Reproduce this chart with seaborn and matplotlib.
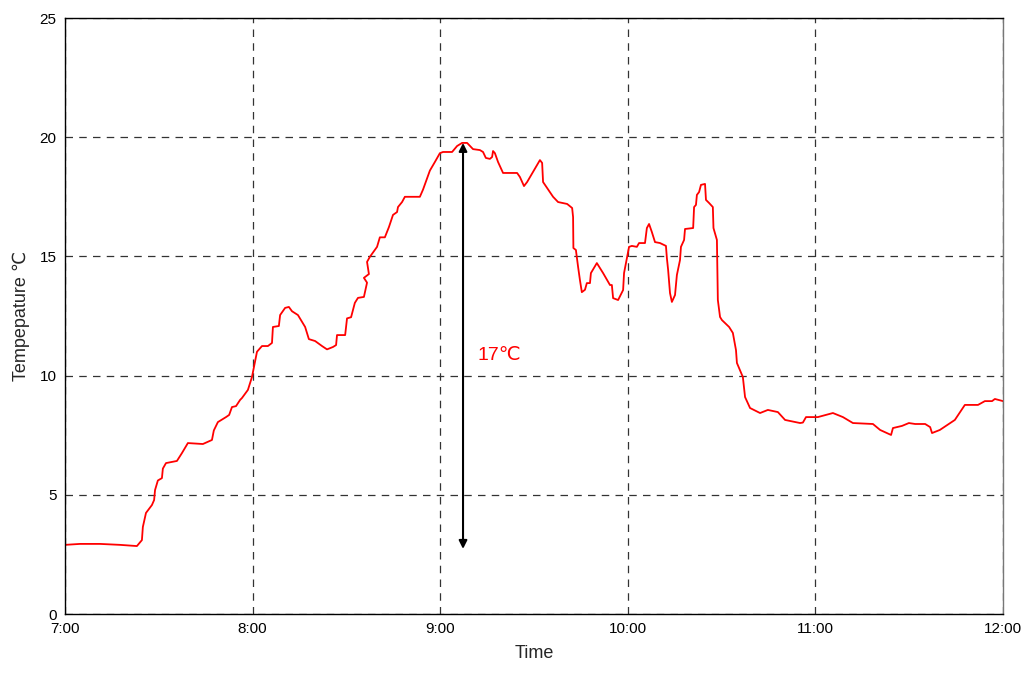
import matplotlib
matplotlib.use("Agg")
import matplotlib.pyplot as plt
import seaborn as sns
import pandas as pd

# Minutes after 7:00 and the recorded temperature (°C)
minutes = [
    0, 4.8, 11.2, 17.6, 23.0, 24.6, 24.9, 25.9, 27.8, 28.5, 28.8, 29.7, 31.0, 31.3,
    32.3, 35.8, 37.4, 39.3, 44.1, 47.0, 47.6, 48.9, 51.5, 52.5, 53.4, 54.7, 56.0,
    56.6, 58.5, 59.8, 61.4, 63.0, 64.9, 66.2, 66.5, 68.4, 68.8, 70.4, 71.6, 72.6,
    74.5, 76.8, 78.0, 80.0, 82.2, 83.8, 85.7, 86.7, 87.0, 89.6, 90.2, 91.5, 92.7,
    93.7, 95.6, 96.6, 95.6, 97.2, 96.6, 97.5, 99.8, 100.7, 102.3, 103.6, 104.9,
    106.2, 106.5, 107.8, 108.7, 113.5, 114.5, 116.7, 118.3, 119.9, 120.9, 123.8,
    125.4, 127.0, 128.6, 130.5, 132.7, 133.7, 134.6, 135.9, 136.6, 136.9, 137.5,
    138.5, 140.1, 144.6, 145.5, 146.8, 147.8, 151.9, 152.6, 152.9, 154.2, 156.1,
    157.7, 160.6, 162.2, 162.5, 162.6, 163.4, 164.1, 164.7, 165.3, 166.3, 166.9,
    167.9, 168.2, 170.1, 172.1, 174.3, 174.9, 175.3, 176.9, 178.5, 178.8, 180.4,
    181.3, 182.9, 183.6, 185.5, 186.1, 186.8, 187.7, 188.7, 190.3, 192.2, 192.5,
    192.9, 193.5, 194.1, 195.1, 195.7, 196.7, 197.0, 198.0, 198.3, 200.9, 201.2,
    201.8, 202.1, 202.8, 203.4, 204.7, 205.0, 206.0, 207.2, 207.4, 208.5, 208.8,
    209.5, 210.1, 212.4, 213.6, 214.6, 214.9, 216.8, 217.5, 219.1, 222.3, 224.8,
    228.0, 230.3, 235.1, 236.0, 237.0, 240.8, 245.6, 248.8, 252.0, 258.4, 260.7,
    264.2, 264.8, 267.7, 269.9, 271.9, 275.1, 276.7, 277.3, 279.8, 284.6, 287.8,
    292.0, 294.2, 296.5, 297.4, 300.0,
]
temperature = [
    2.90, 2.94, 2.94, 2.90, 2.85, 3.10, 3.65, 4.24, 4.57, 4.78, 5.20, 5.60, 5.70, 6.10,
    6.33, 6.42, 6.75, 7.17, 7.13, 7.30, 7.70, 8.05, 8.26, 8.35, 8.68, 8.72, 8.98,
    9.06, 9.40, 9.94, 11.00, 11.24, 11.24, 11.37, 12.04, 12.08, 12.54, 12.84, 12.88, 12.70,
    12.54, 12.04, 11.53, 11.45, 11.24, 11.10, 11.20, 11.28, 11.70, 11.70, 12.40, 12.45, 13.05,
    13.26, 13.30, 13.90, 14.10, 14.26, 14.77, 14.98, 15.40, 15.80, 15.80, 16.23, 16.74,
    16.86, 17.07, 17.28, 17.50, 17.50, 17.80, 18.60, 18.96, 19.33, 19.38, 19.38,
    19.63, 19.76, 19.76, 19.50, 19.46, 19.38, 19.13, 19.09, 19.17, 19.42, 19.33,
    18.96, 18.50, 18.50, 18.33, 17.95, 18.12, 19.04, 18.92, 18.12, 17.87, 17.50,
    17.28, 17.20, 17.03, 16.65, 15.35, 15.27, 14.56, 14.00, 13.50, 13.60, 13.88,
    13.88, 14.30, 14.72, 14.30, 13.80, 13.80, 13.25, 13.17, 13.59, 14.30, 15.40,
    15.44, 15.40, 15.56, 15.56, 16.19, 16.36, 16.02, 15.60, 15.56, 15.44, 14.93,
    14.43, 13.46, 13.09, 13.38, 14.22, 14.85, 15.40, 15.69, 16.15, 16.19, 17.07,
    17.16, 17.58, 17.70, 18.00, 18.04, 17.37, 17.24, 17.07, 16.19, 15.69, 13.17,
    12.46, 12.33, 12.04, 11.79, 11.07, 10.53, 9.94, 9.10, 8.64, 8.43, 8.56,
    8.47, 8.14, 8.01, 8.03, 8.26, 8.26, 8.43, 8.26, 8.01, 7.97, 7.72,
    7.51, 7.80, 7.89, 8.01, 7.97, 7.97, 7.84, 7.59, 7.72, 8.14, 8.77,
    8.77, 8.93, 8.93, 9.02, 8.93,
]

hour_ticks = [0, 60, 120, 180, 240, 300]
hour_labels = ["7:00", "8:00", "9:00", "10:00", "11:00", "12:00"]
temp_ticks = [0, 5, 10, 15, 20, 25]

# Temperature range marked by the arrow
range_at = 127.3
range_low = 2.73
range_high = 19.76
range_text = "17℃"

sns.set_style("white")
plt.rcParams["font.family"] = ["Liberation Sans", "DejaVu Sans"]

df = pd.DataFrame({"minutes": minutes, "temperature": temperature})

fig = plt.figure(figsize=(10.27, 6.77), dpi=100)
ax = fig.add_axes([65 / 1027, 1 - 614 / 677, (1003 - 65) / 1027, (614 - 18) / 677])

sns.lineplot(data=df, x="minutes", y="temperature", sort=False, estimator=None,
             color="#ff0000", linewidth=1.3, ax=ax)

ax.set_xlim(0, 300)
ax.set_ylim(0, 25)
ax.set_xticks(hour_ticks)
ax.set_xticklabels(hour_labels)
ax.set_yticks(temp_ticks)
ax.tick_params(axis="both", labelsize=11, length=0, pad=6, colors="black")

ax.grid(True, color="#333333", linestyle=(0, (6, 5)), linewidth=0.9)
ax.set_axisbelow(True)
for side in ["left", "bottom", "top", "right"]:
    ax.spines[side].set_color("black")
    ax.spines[side].set_linewidth(1.0)
ax.spines["right"].set_color("#777777")

ax.set_xlabel("Time", fontsize=13, labelpad=6)
ax.set_ylabel("Tempepature ℃", fontsize=13, labelpad=7)

ax.annotate("", xy=(range_at, range_high), xytext=(range_at, range_low),
            arrowprops=dict(arrowstyle="<|-|>", color="black", lw=1.5,
                            mutation_scale=12, shrinkA=0, shrinkB=0))
ax.text(range_at + 4.5, 10.85, range_text, color="#ff0000", fontsize=14,
        ha="left", va="center")

fig.savefig("out.png", dpi=100)
